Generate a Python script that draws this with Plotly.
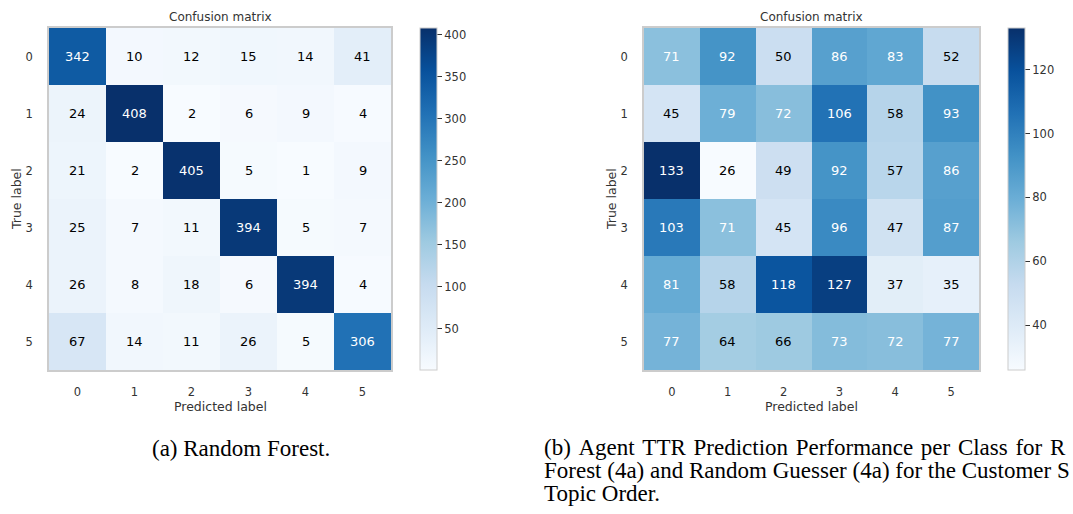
import plotly.graph_objects as go
import plotly.express as px

# ---------------- data ----------------
class_labels = ["0", "1", "2", "3", "4", "5"]

rf_matrix = [
    [342, 10, 12, 15, 14, 41],
    [24, 408, 2, 6, 9, 4],
    [21, 2, 405, 5, 1, 9],
    [25, 7, 11, 394, 5, 7],
    [26, 8, 18, 6, 394, 4],
    [67, 14, 11, 26, 5, 306],
]

rg_matrix = [
    [71, 92, 50, 86, 83, 52],
    [45, 79, 72, 106, 58, 93],
    [133, 26, 49, 92, 57, 86],
    [103, 71, 45, 96, 47, 87],
    [81, 58, 118, 127, 37, 35],
    [77, 64, 66, 73, 72, 77],
]

rf_cbar_ticks = [50, 100, 150, 200, 250, 300, 350, 400]
rg_cbar_ticks = [40, 60, 80, 100, 120]

panel_title = "Confusion matrix"
x_title = "Predicted label"
y_title = "True label"

caption_a = "(a) Random Forest."
caption_b_lines = [
    "(b) Agent TTR Prediction Performance per Class for R",
    "Forest (4a) and Random Guesser (4a) for the Customer S",
    "Topic Order.",
]

# ---------------- layout helpers ----------------
W, H = 1073, 514
TXT = "#333333"
FRAME = "#cccccc"
BLUES = px.colors.sequential.Blues


def px_x(v):
    return v / W


def px_y(v):
    return 1 - v / H


panels = [
    dict(data=rf_matrix, ticks=rf_cbar_ticks, x0=49, x1=391, cb=420, ax="", title_x=49 + 342 / 2, ylab_x=17),
    dict(data=rg_matrix, ticks=rg_cbar_ticks, x0=644, x1=979, cb=1008, ax="2", title_x=644 + 335 / 2, ylab_x=612),
]
top, bottom = 28, 370

fig = go.Figure()
annotations = []

for i, p in enumerate(panels):
    xa = "x" + p["ax"]
    ya = "y" + p["ax"]
    fig.add_trace(
        go.Heatmap(
            z=p["data"],
            x=list(range(len(class_labels))),
            y=list(range(len(class_labels))),
            colorscale=BLUES,
            xaxis=xa,
            yaxis=ya,
            hoverinfo="skip",
            colorbar=dict(
                x=px_x(p["cb"]),
                xanchor="left",
                xref="paper",
                y=px_y((top + bottom) / 2),
                yanchor="middle",
                yref="paper",
                len=bottom - top,
                lenmode="pixels",
                thickness=17,
                thicknessmode="pixels",
                outlinecolor=FRAME,
                outlinewidth=1,
                tickvals=p["ticks"],
                ticks="outside",
                ticklen=5,
                tickcolor=TXT,
                tickfont=dict(size=11.5, color=TXT),
                xpad=0,
                ypad=0,
            ),
        )
    )
    flat = [v for row in p["data"] for v in row]
    thresh = max(flat) / 2
    for r, row in enumerate(p["data"]):
        for c, v in enumerate(row):
            annotations.append(
                dict(
                    x=c, y=r, xref=xa, yref=ya, text=str(v), showarrow=False,
                    font=dict(size=13, color="white" if v > thresh else "black"),
                )
            )
    axis_common = dict(
        showgrid=False, zeroline=False, showline=True, mirror=True,
        linecolor=FRAME, linewidth=1.5, ticks="",
        tickfont=dict(size=11.5, color=TXT),
        tickvals=list(range(len(class_labels))), ticktext=class_labels,
    )
    fig.layout["xaxis" + p["ax"]] = dict(
        axis_common, domain=[px_x(p["x0"]), px_x(p["x1"])], anchor=ya,
        range=[-0.5, 5.5], ticklabelstandoff=10,
    )
    fig.layout["yaxis" + p["ax"]] = dict(
        axis_common, domain=[px_y(bottom), px_y(top)], anchor=xa,
        range=[5.5, -0.5], ticklabelstandoff=12,
    )
    # panel title
    annotations.append(dict(x=px_x(p["title_x"]), y=px_y(17), xref="paper", yref="paper",
                            text=panel_title, showarrow=False, xanchor="center", yanchor="middle",
                            font=dict(size=12, color=TXT)))
    # axis titles
    annotations.append(dict(x=px_x(p["title_x"]), y=px_y(406), xref="paper", yref="paper",
                            text=x_title, showarrow=False, xanchor="center", yanchor="middle",
                            font=dict(size=12.5, color=TXT)))
    annotations.append(dict(x=px_x(p["ylab_x"]), y=px_y((top + bottom) / 2), xref="paper", yref="paper",
                            text=y_title, showarrow=False, xanchor="center", yanchor="middle",
                            textangle=-90, font=dict(size=12.5, color=TXT)))

# captions (justified lines in the source: widen word gaps evenly on line 1)
serif = dict(family="Liberation Serif, Times New Roman, serif", size=23, color="black")
annotations.append(dict(x=px_x(150), y=px_y(448), xref="paper", yref="paper", text=caption_a,
                        showarrow=False, xanchor="left", yanchor="middle", font=serif))
for k, line in enumerate(caption_b_lines):
    txt = line.replace(" ", " \u200a") if k == 0 else line
    annotations.append(dict(x=px_x(542), y=px_y(447 + 23 * k), xref="paper", yref="paper", text=txt,
                            showarrow=False, xanchor="left", yanchor="middle", font=serif))

fig.update_layout(
    width=W, height=H,
    margin=dict(l=0, r=0, t=0, b=0),
    paper_bgcolor="white", plot_bgcolor="white",
    font=dict(family="DejaVu Sans", color=TXT),
    annotations=annotations,
    showlegend=False,
)

fig.write_html(
    "out.html",
    config={"displayModeBar": False},
    post_script="document.body.style.margin='0px';document.body.style.overflow='hidden';",
)
